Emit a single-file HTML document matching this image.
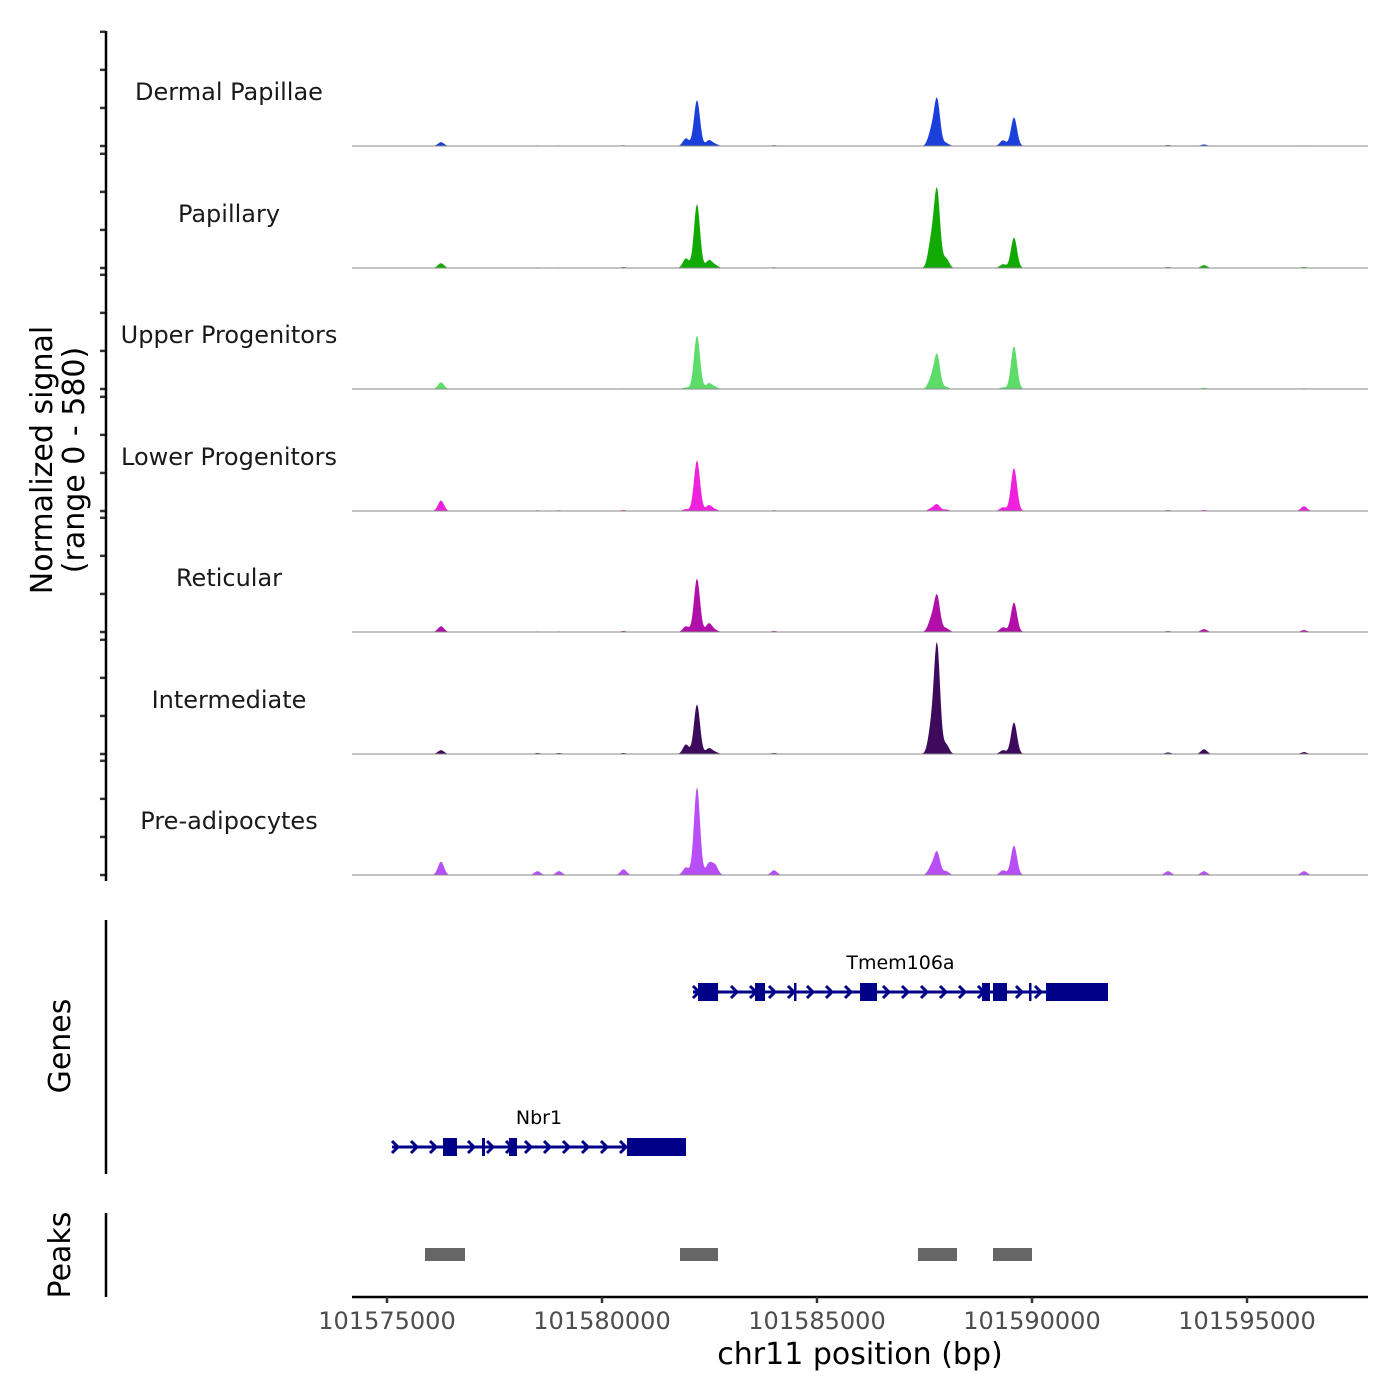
<!DOCTYPE html>
<html><head><meta charset="utf-8"><style>
body{margin:0;background:#fff}
svg{display:block;font-family:"DejaVu Sans","Liberation Sans",sans-serif}
</style></head><body>
<svg id="c" width="1400" height="1400" xmlns="http://www.w3.org/2000/svg"></svg>
<script>
const trackNames=["Dermal Papillae","Papillary","Upper Progenitors","Lower Progenitors","Reticular","Intermediate","Pre-adipocytes"];
const trackColors=["#1a3fdb","#11aa00","#5ddc6a","#ee22dd","#b00fa8","#3d0a5c","#b84ef5"];
const peakPos=[101576256,101581953,101582209,101582488,101582628,101587651,101587791,101588000,101589326,101589581,101594000,101596326,101593163,101580500,101579000,101578500,101584000];
const h_dermal=[20,40,240,30,10,70,245,15,30,150,8,3,5,4,3,3,4];
const h_papillary=[25,50,335,40,15,130,405,50,20,160,15,5,5,5,3,3,4];
const h_upper=[35,8,280,30,10,50,180,10,8,225,6,4,3,3,2,2,3];
const h_lower=[55,10,265,30,8,12,35,8,20,225,5,25,5,5,4,4,4];
const h_reticular=[30,30,280,45,10,60,190,20,25,155,15,10,5,5,3,3,5];
const h_intermediate=[20,50,260,30,10,125,570,50,20,165,25,10,8,5,5,5,5];
const h_preadipo=[70,40,460,60,50,40,120,20,25,155,20,20,20,30,20,20,25];
const trackHeights=[h_dermal,h_papillary,h_upper,h_lower,h_reticular,h_intermediate,h_preadipo];
const xTicks=[101575000,101580000,101585000,101590000,101595000];
const yTicks=[0,200,400,600];
const genes=[{name:"Tmem106a",start:101582116,end:101591767,row:0,
  exons:[[101582233,101582698],[101583558,101583791],[101584465,101584512],[101586000,101586395],[101588837,101589023],[101589093,101589419],[101589930,101589977],[101590326,101591767]]},
 {name:"Nbr1",start:101575116,end:101581953,row:1,
  exons:[[101576302,101576628],[101577209,101577279],[101577837,101578023],[101580581,101581953]]}];
const peakRegions=[[101575884,101576814],[101581814,101582698],[101587349,101588256],[101589093,101590000]];

const svg=document.getElementById('c');
const NS="http://www.w3.org/2000/svg";
function el(t,a,p){const e=document.createElementNS(NS,t);for(const k in a)e.setAttribute(k,a[k]);(p||svg).appendChild(e);return e;}
const X0=352,X1=1368,B0=101574186,PX=0.043;
const xs=v=>X0+(v-B0)*PX;
const YS=111/580;
const bases=[146,268,389,511,632,754,875];
const sig=70;
bases.forEach((b,i)=>{
  const g=el('g',{});
  
  
  let d=`M${X0},${b}`;
  for(let x=X0;x<=X1;x++){
    const bp=B0+(x-X0)/PX;let v=0;
    trackHeights[i].forEach((h,j)=>{const z=(bp-peakPos[j])/sig;v+=h*Math.exp(-0.5*z*z);});
    d+=` L${x},${(b-v*YS).toFixed(2)}`;
  }
  d+=` L${X1},${b} Z`;
  const p=el('path',{d,fill:trackColors[i],stroke:'none'},g);
  
  
  el('line',{x1:X0,x2:X1,y1:b,y2:b,stroke:'#888','stroke-width':1},g);
  const t=el('text',{x:229,y:b-46,'text-anchor':'middle','font-size':24,fill:'#1a1a1a'},g);
  t.textContent=trackNames[i];
  
  
  yTicks.forEach(v=>{const y=b-v*YS*(115/111)*(0.96);el('line',{x1:100,x2:106,y1:y,y2:y,stroke:'#333','stroke-width':2.5},g);});
});
el('line',{x1:106,x2:106,y1:31,y2:881,stroke:'#000','stroke-width':2.5});
const yt=el('text',{transform:'translate(52,460) rotate(-90)','text-anchor':'middle','font-size':30,fill:'#000'});

yt.innerHTML='<tspan x="0" dy="0">Normalized signal</tspan><tspan x="0" dy="32">(range 0 - 580)</tspan>';
// genes
el('line',{x1:106,x2:106,y1:920,y2:1174,stroke:'#000','stroke-width':2.5});
const gt=el('text',{transform:'translate(70,1046) rotate(-90)','text-anchor':'middle','font-size':30});gt.textContent='Genes';

const GC='#000088';
genes.forEach(g=>{
  const y=g.row?1147:992;
  const gg=el('g',{});
  
  
  el('line',{x1:xs(g.start),x2:xs(g.end),y1:y,y2:y,stroke:GC,'stroke-width':3},gg);
  for(let x=xs(g.start)+3;x<xs(g.end)-4;x+=19){el('path',{d:`M${x-3},${y-6} L${x+3},${y} L${x-3},${y+6}`,fill:'none',stroke:GC,'stroke-width':3},gg);}
  g.exons.forEach(e=>{el('rect',{x:xs(e[0]),y:y-9,width:Math.max(2.5,xs(e[1])-xs(e[0])),height:18,fill:GC},gg);});
  const t=el('text',{x:(xs(g.start)+xs(g.end))/2,y:y-23,'text-anchor':'middle','font-size':19},gg);t.textContent=g.name;
});
// peaks
el('line',{x1:106,x2:106,y1:1213,y2:1297,stroke:'#000','stroke-width':2.5});
const pt=el('text',{transform:'translate(70,1255) rotate(-90)','text-anchor':'middle','font-size':30});pt.textContent='Peaks';

peakRegions.forEach(r=>{const rc=el('rect',{x:xs(r[0]),y:1248,width:xs(r[1])-xs(r[0]),height:13,fill:'#666'});
  });
// x axis
el('line',{x1:X0,x2:X1,y1:1297,y2:1297,stroke:'#000','stroke-width':2.5});
xTicks.forEach(v=>{el('line',{x1:xs(v),x2:xs(v),y1:1297,y2:1303,stroke:'#333','stroke-width':2.5});
  const t=el('text',{x:xs(v),y:1329,'text-anchor':'middle','font-size':24,fill:'#4d4d4d'});t.textContent=v;
  });
const xt=el('text',{x:860,y:1364,'text-anchor':'middle','font-size':30});xt.textContent='chr11 position (bp)';

</script>
</body></html>
